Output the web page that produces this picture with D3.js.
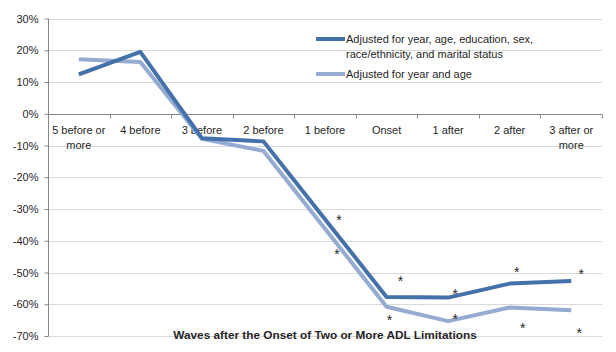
<!DOCTYPE html>
<html>
<head>
<meta charset="utf-8">
<script src="https://cdn.jsdelivr.net/npm/d3@7"></script>
<style>
  body { margin: 0; background: #fff; }
  svg { display: block; font-family: 'Liberation Sans', Arial, sans-serif; }
  .grid line { stroke: #d9d9d9; }
  .axis path, .axis line { stroke: #868686; }
  .axis text { fill: #262626; font-size: 11px; }
</style>
</head>
<body>
<svg width="616" height="352"></svg>
<script>
// Waves relative to onset
var categories = ['5 before or more', '4 before', '3 before', '2 before', '1 before',
                  'Onset', '1 after', '2 after', '3 after or more'];

// Adjusted for year, age, education, sex, race/ethnicity, and marital status
var fullAdjusted = [12.4, 19.5, -7.7, -8.7, -33.2, -57.7, -57.9, -53.5, -52.7];
// Adjusted for year and age
var yearAgeAdjusted = [17.2, 16.3, -7.9, -11.7, -36.2, -60.8, -65.3, -61.0, -61.9];

// significance markers
var fullStars = ['', '', '', '', '*', '*', '*', '*', '*'];
var yearAgeStars = ['', '', '', '', '*', '*', '*', '*', '*'];

var yTicks = [30, 20, 10, 0, -10, -20, -30, -40, -50, -60, -70];

var seriesNames = ['Adjusted for year, age, education, sex,|race/ethnicity, and marital status',
                   'Adjusted for year and age'];

var svg = d3.select('svg');
var plot = {l: 48, r: 602, t: 18.5, b: 336};

var x = d3.scaleBand()
    .domain(categories)
    .range([plot.l, plot.r]);

var y = d3.scaleLinear()
    .domain([-70, 30])
    .range([plot.b, plot.t]);

// gridlines
svg.append('g')
    .attr('class', 'grid')
    .selectAll('line')
    .data(yTicks)
    .enter().append('line')
    .attr('x1', plot.l)
    .attr('x2', plot.r)
    .attr('y1', function(d) { return Math.round(y(d)) + 0.5; })
    .attr('y2', function(d) { return Math.round(y(d)) + 0.5; });

// y axis
var yAxis = d3.axisLeft(y)
    .tickValues(yTicks)
    .tickSize(4)
    .tickPadding(6)
    .tickFormat(function(d) { return d + '%'; });

svg.append('g')
    .attr('class', 'axis')
    .attr('transform', 'translate(' + (plot.l + 0.5) + ',0)')
    .call(yAxis)
    .call(function(g) { g.select('.domain').attr('d', 'M0,' + plot.t + 'V' + plot.b); });

// category axis sitting on 0%
var xAxis = d3.axisBottom(x).tickSize(0).tickPadding(0).tickFormat('');
var xg = svg.append('g')
    .attr('class', 'axis')
    .attr('transform', 'translate(0,' + (Math.round(y(0)) + 0.5) + ')')
    .call(xAxis);
xg.select('.domain').attr('d', 'M' + plot.l + ',0H' + plot.r);

// tick marks at band boundaries
xg.selectAll('.bound')
    .data(categories.slice(1).concat(['end']))
    .enter().append('line')
    .attr('class', 'bound')
    .attr('x1', function(d, i) { return Math.round(x(categories[0]) + (i + 1) * x.bandwidth()) + 0.5; })
    .attr('x2', function(d, i) { return Math.round(x(categories[0]) + (i + 1) * x.bandwidth()) + 0.5; })
    .attr('y1', 0)
    .attr('y2', 4);

// category labels (wrap the long ones)
var catLabels = xg.selectAll('.cat')
    .data(categories)
    .enter().append('text')
    .attr('class', 'cat')
    .attr('text-anchor', 'middle')
    .attr('y', 19);

catLabels.each(function(d) {
    var lines = d.indexOf(' or ') >= 0 ? [d.slice(0, d.indexOf(' or ') + 3), 'more'] : [d];
    var t = d3.select(this);
    lines.forEach(function(s, i) {
        t.append('tspan')
            .attr('x', x(d) + x.bandwidth() / 2)
            .attr('dy', i === 0 ? 0 : 15)
            .text(s);
    });
});

// lines
var line = d3.line()
    .x(function(d, i) { return x(categories[i]) + x.bandwidth() / 2; })
    .y(function(d) { return y(d); });

var colors = ['#4471a9', '#95abd1'];

svg.append('path')
    .datum(yearAgeAdjusted)
    .attr('fill', 'none')
    .attr('stroke', colors[1])
    .attr('stroke-width', 4)
    .attr('stroke-linejoin', 'round')
    .attr('d', line);

svg.append('path')
    .datum(fullAdjusted)
    .attr('fill', 'none')
    .attr('stroke', colors[0])
    .attr('stroke-width', 4)
    .attr('stroke-linejoin', 'round')
    .attr('d', line);

// asterisk labels, hand-placed like the original
var fullOffsets = [[0, 0], [0, 0], [0, 0], [0, 0], [14, -2], [14, -19], [7, -7], [7, -15], [10, -10]];
var yearAgeOffsets = [[0, 0], [0, 0], [0, 0], [0, 0], [12, 22], [3, 10], [7, -5], [13, 18], [8, 20]];

function drawStars(values, stars, offsets) {
    svg.append('g')
        .selectAll('text')
        .data(values)
        .enter().append('text')
        .attr('text-anchor', 'middle')
        .attr('font-size', '14px')
        .attr('fill', '#262626')
        .attr('x', function(d, i) { return x(categories[i]) + x.bandwidth() / 2 + offsets[i][0]; })
        .attr('y', function(d, i) { return y(d) + offsets[i][1] + 8; })
        .text(function(d, i) { return stars[i]; });
}
drawStars(fullAdjusted, fullStars, fullOffsets);
drawStars(yearAgeAdjusted, yearAgeStars, yearAgeOffsets);

// legend
var legend = svg.append('g').attr('transform', 'translate(316,39)');
var legendRows = [0, 35];
seriesNames.forEach(function(name, i) {
    var g = legend.append('g').attr('transform', 'translate(0,' + legendRows[i] + ')');
    g.append('line')
        .attr('x1', 0).attr('x2', 29)
        .attr('stroke', colors[i])
        .attr('stroke-width', 4);
    var t = g.append('text')
        .attr('font-size', '11px')
        .attr('fill', '#262626')
        .attr('y', 4);
    name.split('|').forEach(function(s, j) {
        t.append('tspan').attr('x', 30).attr('dy', j === 0 ? 0 : 15).text(s);
    });
});

// axis title
svg.append('text')
    .attr('x', (plot.l + plot.r) / 2)
    .attr('y', 339)
    .attr('text-anchor', 'middle')
    .attr('font-size', '11.8px')
    .attr('font-weight', 'bold')
    .attr('fill', '#262626')
    .text('Waves after the Onset of Two or More ADL Limitations');
</script>
</body>
</html>
